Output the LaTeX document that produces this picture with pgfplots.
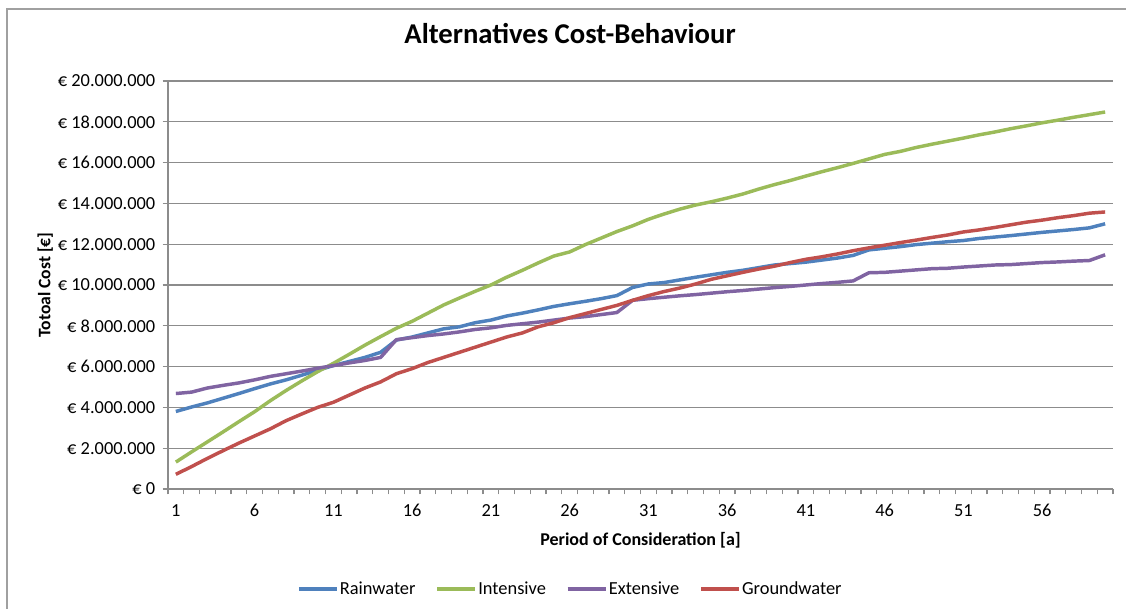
\documentclass[border=0pt]{standalone}
\usepackage{pgfplots}
\pgfplotsset{compat=1.18}
\usepackage{pgfplotstable}
\usepackage{fontspec}
\setmainfont{Carlito}
\definecolor{rain}{HTML}{4F81BD}
\definecolor{inten}{HTML}{9BBB59}
\definecolor{exten}{HTML}{8064A2}
\definecolor{ground}{HTML}{C0504D}
\definecolor{gridc}{HTML}{8C8C8C}
\definecolor{framec}{HTML}{A0A0A0}

\pgfplotstableread{
x rain inten exten ground
1 3.80 1.32 4.68 0.72
2 4.02 1.82 4.75 1.10
3 4.22 2.31 4.95 1.50
4 4.45 2.80 5.08 1.88
5 4.68 3.30 5.20 2.25
6 4.92 3.79 5.35 2.60
7 5.15 4.33 5.52 2.95
8 5.35 4.83 5.65 3.35
9 5.58 5.30 5.78 3.68
10 5.82 5.75 5.92 4.00
11 6.05 6.16 6.05 4.25
12 6.25 6.60 6.18 4.60
13 6.45 7.05 6.30 4.95
14 6.70 7.47 6.45 5.25
15 7.30 7.88 7.32 5.65
16 7.45 8.22 7.42 5.90
17 7.65 8.62 7.52 6.20
18 7.85 9.02 7.60 6.45
19 7.95 9.36 7.70 6.70
20 8.15 9.69 7.82 6.95
21 8.28 10.00 7.90 7.20
22 8.48 10.38 8.02 7.45
23 8.62 10.72 8.10 7.65
24 8.78 11.08 8.18 7.95
25 8.95 11.42 8.28 8.15
26 9.08 11.62 8.38 8.40
27 9.20 11.98 8.45 8.60
28 9.33 12.30 8.55 8.80
29 9.48 12.62 8.65 9.00
30 9.88 12.90 9.25 9.25
31 10.05 13.22 9.33 9.48
32 10.12 13.48 9.40 9.68
33 10.25 13.72 9.47 9.85
34 10.38 13.92 9.53 10.05
35 10.50 14.08 9.60 10.28
36 10.62 14.26 9.67 10.45
37 10.72 14.46 9.73 10.62
38 10.85 14.70 9.80 10.78
39 10.98 14.92 9.87 10.92
40 11.05 15.12 9.93 11.10
41 11.12 15.34 10.00 11.26
42 11.22 15.55 10.07 11.38
43 11.32 15.75 10.13 11.52
44 11.45 15.96 10.20 11.68
45 11.72 16.18 10.60 11.82
46 11.80 16.40 10.62 11.95
47 11.88 16.55 10.68 12.08
48 11.98 16.74 10.74 12.20
49 12.05 16.90 10.80 12.33
50 12.12 17.05 10.82 12.45
51 12.18 17.20 10.88 12.60
52 12.28 17.36 10.93 12.70
53 12.35 17.50 10.98 12.82
54 12.42 17.66 11.00 12.95
55 12.50 17.80 11.05 13.08
56 12.58 17.95 11.10 13.18
57 12.65 18.08 11.13 13.30
58 12.72 18.22 11.17 13.40
59 12.80 18.35 11.20 13.52
60 13.00 18.48 11.48 13.58
}\datatable

\begin{document}
\begin{tikzpicture}
\useasboundingbox (0,0) rectangle (844.5pt,456.75pt);
\draw[framec, line width=1pt] (5.25pt,-5pt) -- (5.25pt,450pt) -- (850pt,450pt);
\begin{axis}[
  at={(126pt,90pt)}, anchor=south west,
  scale only axis, width=708.75pt, height=306pt,
  xmin=0.5, xmax=60.5, ymin=0, ymax=20,
  axis x line*=bottom, axis y line*=left,
  axis line style={gridc, line width=0.9pt},
  xtick={0.5,1.5,...,60.5}, xticklabels={},
  extra x ticks={1,6,...,56},
  extra x tick style={major tick length=0pt, grid=none},
  extra x tick labels={1,6,11,16,21,26,31,36,41,46,51,56},
  ytick={0,2,...,20},
  yticklabels={€ 0,€ 2.000.000,€ 4.000.000,€ 6.000.000,€ 8.000.000,€ 10.000.000,€ 12.000.000,€ 14.000.000,€ 16.000.000,€ 18.000.000,€ 20.000.000},
  ymajorgrids, major grid style={gridc, line width=0.9pt},
  tick align=outside, major tick length=4pt,
  tick style={gridc, line width=0.8pt},
  ticklabel style={font=\fontsize{13.8}{15}\selectfont, text=black},
  yticklabel style={xshift=-2pt},
  xticklabel style={yshift=-8pt},
  title={Alternatives Cost-Behaviour},
  title style={font=\fontsize{21.5}{24}\selectfont\bfseries, at={(axis description cs:0.4254,1.0956)}, anchor=center},
  xlabel={Period of Consideration [a]},
  xlabel style={font=\fontsize{13.5}{15}\selectfont\bfseries, at={(axis description cs:0.5,-0.125)}, anchor=center},
  ylabel={Totoal Cost [€]},
  ylabel style={font=\fontsize{13.2}{15}\selectfont\bfseries, at={(axis description cs:-0.130,0.5)}, anchor=center},
  legend columns=4,
  legend style={at={(axis description cs:0.4254,-0.245)}, anchor=center, draw=none,
    font=\fontsize{13.8}{15}\selectfont,
    /tikz/every even column/.append style={column sep=14pt},
    nodes={inner xsep=1pt}},
  legend image code/.code={\draw[#1, line width=2.6pt] (0pt,0pt) -- (28.5pt,0pt);},
  every axis plot/.append style={line width=2.6pt, line join=round, mark=none},
]
\addplot[rain] table[x=x, y=rain] {\datatable};
\addlegendentry{Rainwater}
\addplot[inten] table[x=x, y=inten] {\datatable};
\addlegendentry{Intensive}
\addplot[exten] table[x=x, y=exten] {\datatable};
\addlegendentry{Extensive}
\addplot[ground] table[x=x, y=ground] {\datatable};
\addlegendentry{Groundwater}
\end{axis}
\end{tikzpicture}
\end{document}
